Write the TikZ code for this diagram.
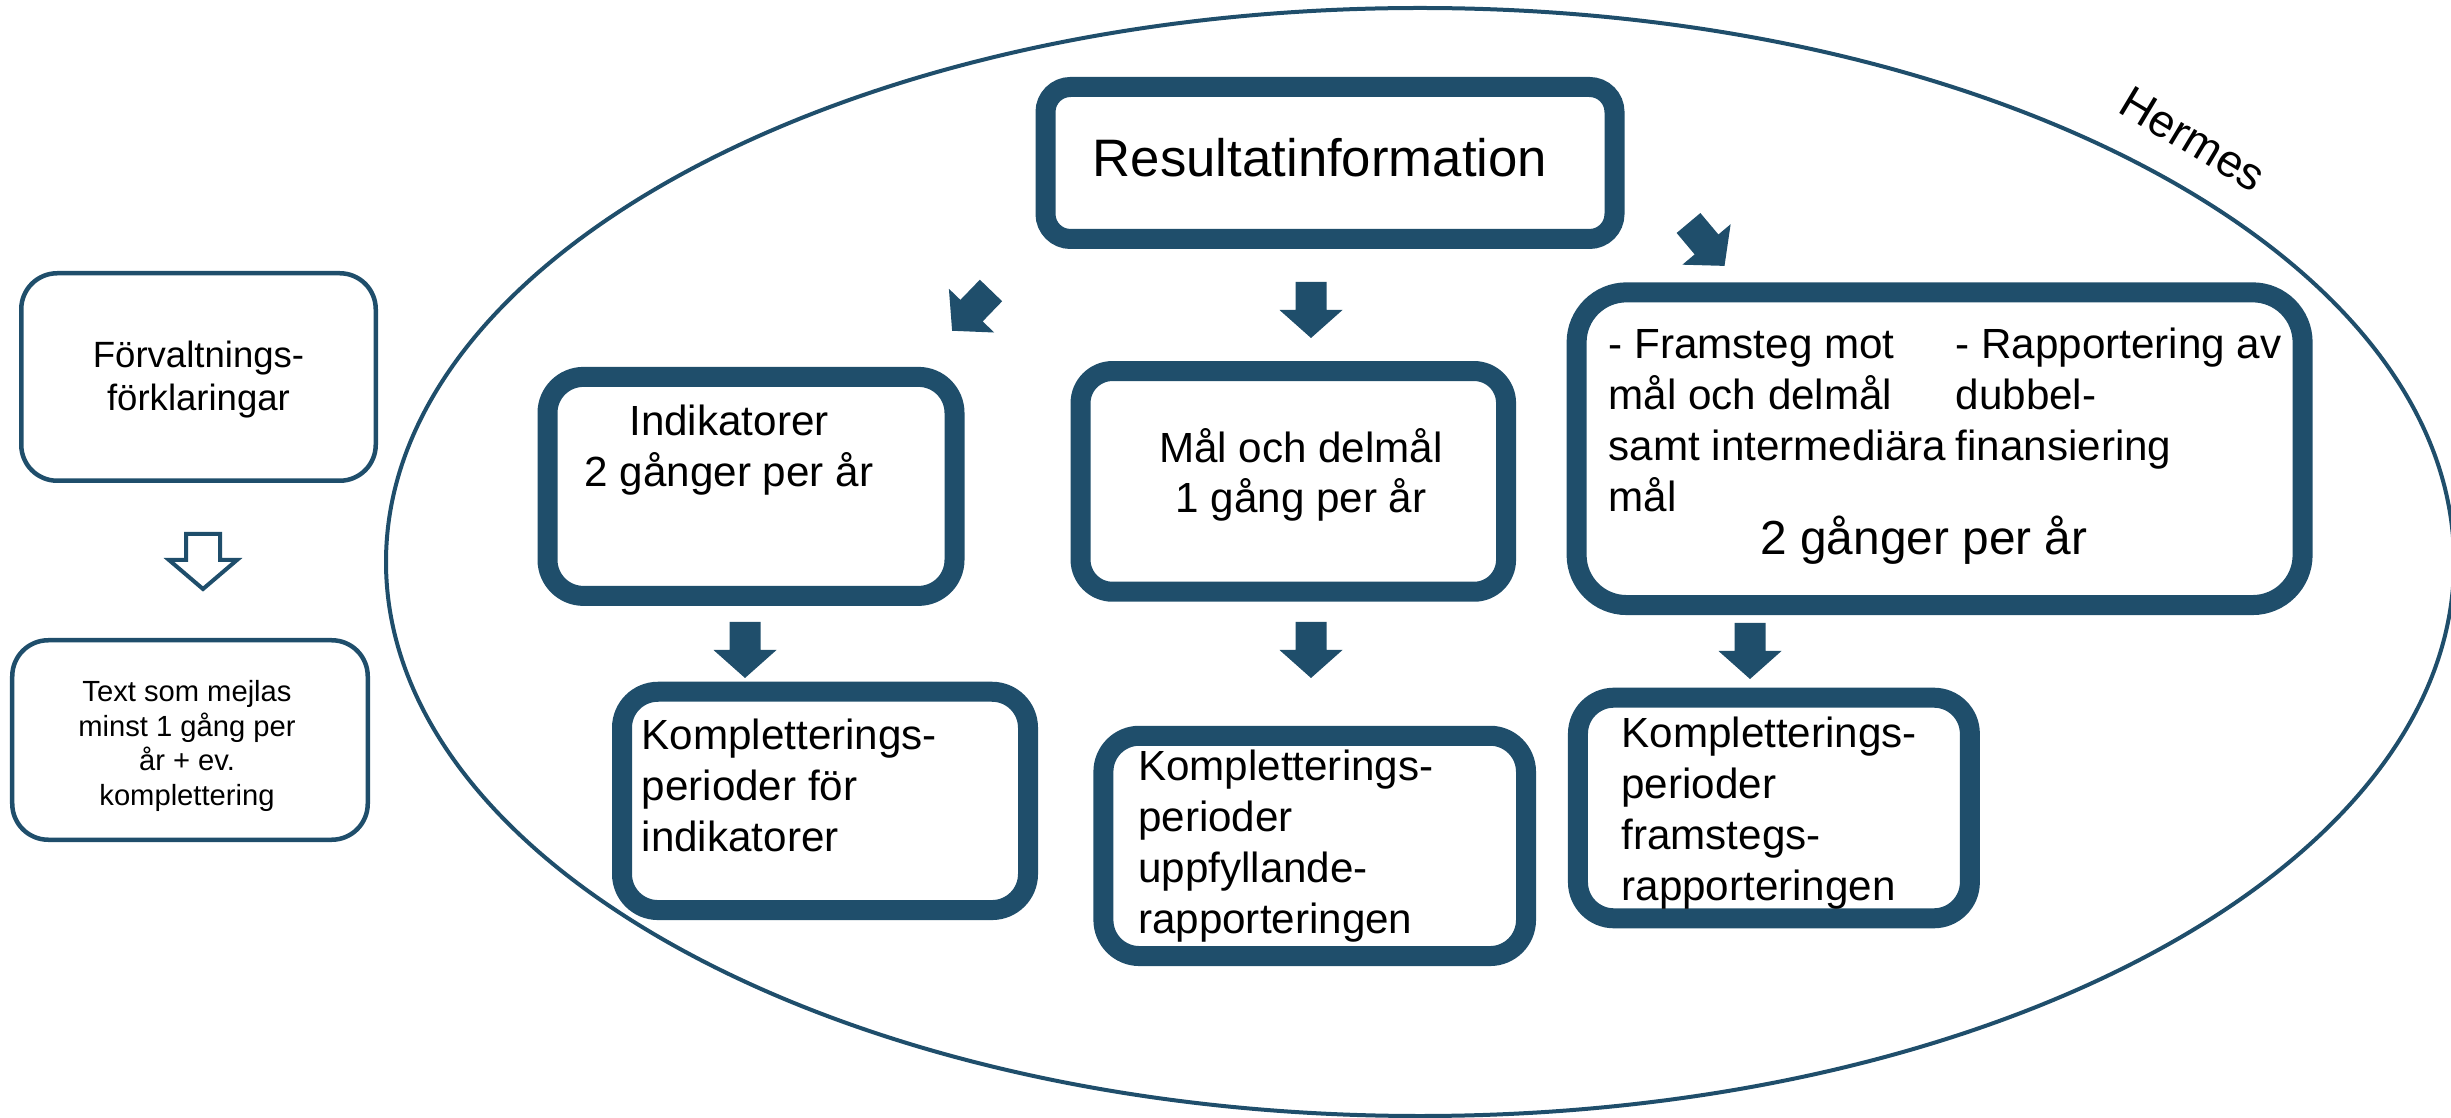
\documentclass[tikz,border=0pt]{standalone}
\usepackage{fontspec}
\setmainfont{Liberation Sans}
\usetikzlibrary{shapes,positioning}
\usepackage{tikz}
\definecolor{hermesblue}{RGB}{31,78,107}

\begin{document}
\begin{tikzpicture}[x=1cm,y=-1cm,
    thickbox/.style={draw=hermesblue,line width=0.2cm,rounded corners=0.36cm,inner sep=0pt},
    thinbox/.style={draw=hermesblue,line width=0.045cm,rounded corners=0.36cm,inner sep=0pt},
    boxtext/.style={inner sep=0pt,font=\fontsize{12}{14.5}\selectfont},
    pics/blockarrow/.style={code={
      \fill[hermesblue] (-0.155,0) -- (0.155,0) -- (0.155,0.28) -- (0.315,0.28)
        -- (0,0.56) -- (-0.315,0.28) -- (-0.155,0.28) -- cycle;}}]
    \useasboundingbox (0,0) rectangle (24.51,11.18);

    % the Hermes ellipse
    \node [draw=hermesblue,line width=0.04cm,shape=ellipse,minimum width=20.68cm,minimum height=11.08cm,inner sep=0pt] (hermes) at (14.20,5.62) {};
    \node [rotate=-31,inner sep=0pt,font=\fontsize{13}{15}\selectfont] (hermestxt) at (21.93,1.39) {Hermes};

    % left column (text nodes sit on the baseline of their last line)
    \node [thinbox,minimum width=3.545cm,minimum height=2.075cm] (forv) at (1.985,3.77) {};
    \node [inner sep=0pt,align=center,anchor=base,font=\fontsize{10.4}{12.5}\selectfont] (forvtxt) at (1.985,4.11) {Förvaltnings-\\förklaringar};
    \node [thinbox,minimum width=3.555cm,minimum height=1.995cm] (mejl) at (1.90,7.40) {};
    \node [inner sep=0pt,align=center,anchor=base,font=\fontsize{8.3}{9.8}\selectfont] (mejltxt) at (1.87,8.05) {Text som mejlas\\minst 1 gång per\\år + ev.\\komplettering};
    \draw [hermesblue,line width=0.04cm,fill=white,line join=miter] (1.86,5.34) -- (2.20,5.34) -- (2.20,5.60) -- (2.37,5.60) -- (2.03,5.89) -- (1.69,5.60) -- (1.86,5.60) -- cycle;

    % top box
    \node [thickbox,rounded corners=0.25cm,minimum width=5.69cm,minimum height=1.52cm] (res) at (13.30,1.63) {};
    \node [inner sep=0pt,anchor=base,font=\fontsize{15}{18}\selectfont] (restxt) at (13.20,1.767) {Resultatinformation};

    % middle row
    \node [thickbox,minimum width=4.07cm,minimum height=2.19cm] (ind) at (7.51,4.864) {};
    \node [boxtext,align=center,anchor=base] (indtxt) at (7.29,4.867) {Indikatorer\\2 gånger per år};
    \node [thickbox,rounded corners=0.32cm,minimum width=4.255cm,minimum height=2.207cm] (mal) at (12.933,4.814) {};
    \node [boxtext,align=center,anchor=base] (maltxt) at (13.01,5.13) {Mål och delmål\\1 gång per år};
    \node [thickbox,rounded corners=0.5cm,minimum width=7.26cm,minimum height=3.127cm] (fram) at (19.396,4.487) {};
    \node [boxtext,align=left,anchor=base west] (framtxt) at (16.08,5.115) {- Framsteg mot\\mål och delmål\\samt intermediära\\mål};
    \node [boxtext,align=left,anchor=base west] (dubbtxt) at (19.55,4.605) {- Rapportering av\\dubbel-\\finansiering};
    \node [inner sep=0pt,anchor=base,font=\fontsize{13.6}{16}\selectfont] (gangtxt) at (19.24,5.55) {2 gånger per år};

    % bottom row
    \node [thickbox,minimum width=4.06cm,minimum height=2.183cm] (kind) at (8.25,8.009) {};
    \node [boxtext,align=left,anchor=base west] (kindtxt) at (6.41,8.51) {Kompletterings-\\perioder för\\indikatorer};
    \node [thickbox,minimum width=4.226cm,minimum height=2.203cm] (kmal) at (13.147,8.459) {};
    \node [boxtext,align=left,anchor=base west] (kmaltxt) at (11.374,9.333) {Kompletterings-\\perioder\\uppfyllande-\\rapporteringen};
    \node [thickbox,minimum width=3.919cm,minimum height=2.206cm] (kfram) at (17.739,8.08) {};
    \node [boxtext,align=left,anchor=base west] (kframtxt) at (16.208,9.007) {Kompletterings-\\perioder\\framstegs-\\rapporteringen};

    % block arrows
    \pic [rotate=-44] at (9.91,2.905) {blockarrow};
    \pic at (13.11,2.82) {blockarrow};
    \pic [rotate=40] at (16.885,2.23) {blockarrow};
    \pic at (7.45,6.22) {blockarrow};
    \pic at (13.11,6.22) {blockarrow};
    \pic at (17.50,6.23) {blockarrow};
\end{tikzpicture}
\end{document}
